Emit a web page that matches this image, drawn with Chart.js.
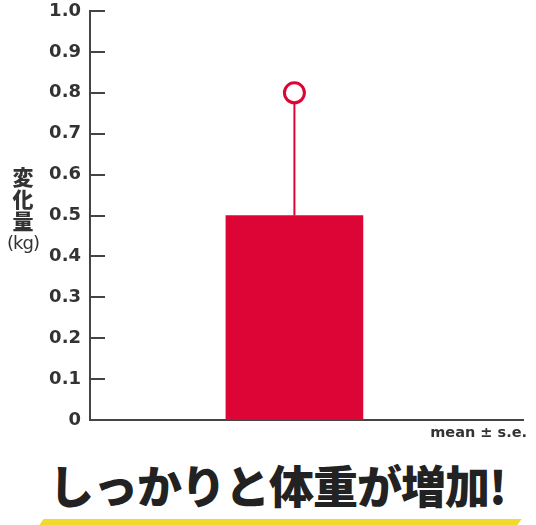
<!DOCTYPE html>
<html>
<head>
<meta charset="utf-8">
<script src="https://cdn.jsdelivr.net/npm/chart.js@4"></script>
<style>
  html, body { margin: 0; padding: 0; background: #fff; }
  #wrap { position: relative; width: 536px; height: 525px; overflow: hidden; }
  #chartBox { position: absolute; left: 0; top: -7px; width: 536px; height: 447px; }
  .ytitle { position: absolute; left: 4px; width: 38px; text-align: center; color: #333;
            font-family: "Noto Sans CJK JP", sans-serif; }
  .ytitle .big { font-size: 21px; font-weight: 900; line-height: 22px; display: block; }
  .ytitle .unit { font-size: 18px; font-weight: 400; line-height: 24px; display: block; font-family: "DejaVu Sans", sans-serif; letter-spacing: -1px; }
  #note { position: absolute; right: 9px; top: 424px; font: bold 14.5px "DejaVu Sans", sans-serif; color: #333; }
  #headline { position: absolute; left: 0; width: 555px; top: 452px; text-align: center;
              font: 900 45px "Noto Sans CJK JP", sans-serif; color: #222; letter-spacing: -1px; }
  #band { position: absolute; left: 38px; top: 519px; width: 478px; height: 8px; background: #f3d92b;
          transform: skewX(-35deg); transform-origin: bottom left; }
</style>
</head>
<body>
<div id="wrap">
  <div id="chartBox"><canvas id="chart"></canvas></div>
  <div class="ytitle" style="top:165px">
    <span class="big">変</span><span class="big">化</span><span class="big">量</span><span class="unit">(kg)</span>
  </div>
  <div id="note">mean ± s.e.</div>
  <div id="headline">しっかりと体重が増加!</div>
  <div id="band"></div>
</div>
<script>
// values
const groups = ['体重変化'];
const meanValues = [0.5];
const upperValues = [0.8];
const yTickLabels = ['0', '0.1', '0.2', '0.3', '0.4', '0.5', '0.6', '0.7', '0.8', '0.9', '1.0'];

const RED = '#dc0536';
const AXIS = '#444';

// error line from bar top up to the marker, drawn under the datasets
const errorLine = {
  id: 'errorLine',
  beforeDatasetsDraw(chart) {
    const { ctx, scales: { x, y } } = chart;
    ctx.save();
    ctx.strokeStyle = RED;
    ctx.lineWidth = 2;
    groups.forEach((g, i) => {
      const px = x.getPixelForValue(i);
      ctx.beginPath();
      ctx.moveTo(px, y.getPixelForValue(meanValues[i]));
      ctx.lineTo(px, y.getPixelForValue(upperValues[i]));
      ctx.stroke();
    });
    ctx.restore();
  }
};

// short tick marks pointing into the plot
const innerTicks = {
  id: 'innerTicks',
  afterDraw(chart) {
    const { ctx, scales: { y } } = chart;
    ctx.save();
    ctx.strokeStyle = AXIS;
    ctx.lineWidth = 2;
    y.ticks.forEach(t => {
      const py = Math.round(y.getPixelForValue(t.value));
      ctx.beginPath();
      ctx.moveTo(y.right, py);
      ctx.lineTo(y.right + 15, py);
      ctx.stroke();
    });
    ctx.restore();
  }
};

new Chart(document.getElementById('chart'), {
  data: {
    datasets: [
      {
        type: 'scatter',
        data: upperValues.map((v, i) => ({ x: i, y: v })),
        pointStyle: 'circle',
        pointRadius: 10,
        pointBorderWidth: 3,
        pointBorderColor: RED,
        pointBackgroundColor: '#fff',
        order: 0
      },
      {
        type: 'bar',
        data: meanValues.map((v, i) => ({ x: i, y: v })),
        backgroundColor: RED,
        barThickness: 137,
        order: 1
      }
    ]
  },
  options: {
    responsive: true,
    maintainAspectRatio: false,
    animation: false,
    layout: { padding: { left: 0, right: 5, top: 1, bottom: 20 } },
    plugins: { legend: { display: false }, tooltip: { enabled: false } },
    scales: {
      x: {
        type: 'linear',
        min: -1,
        max: 1.15,
        grid: { display: false },
        border: { display: true, color: AXIS, width: 2 },
        ticks: { display: false },
        afterFit(scale) { scale.height = 0; }
      },
      y: {
        min: 0,
        max: 1,
        grid: { display: false, drawTicks: false },
        border: { display: true, color: AXIS, width: 2 },
        ticks: {
          stepSize: 0.1,
          padding: 9,
          color: '#333',
          font: { family: 'DejaVu Sans', size: 18, weight: 'bold', lineHeight: 1 },
          callback: (value, index) => yTickLabels[index]
        },
        afterFit(scale) { scale.width = 90; }
      }
    }
  },
  plugins: [errorLine, innerTicks]
});
</script>
</body>
</html>
